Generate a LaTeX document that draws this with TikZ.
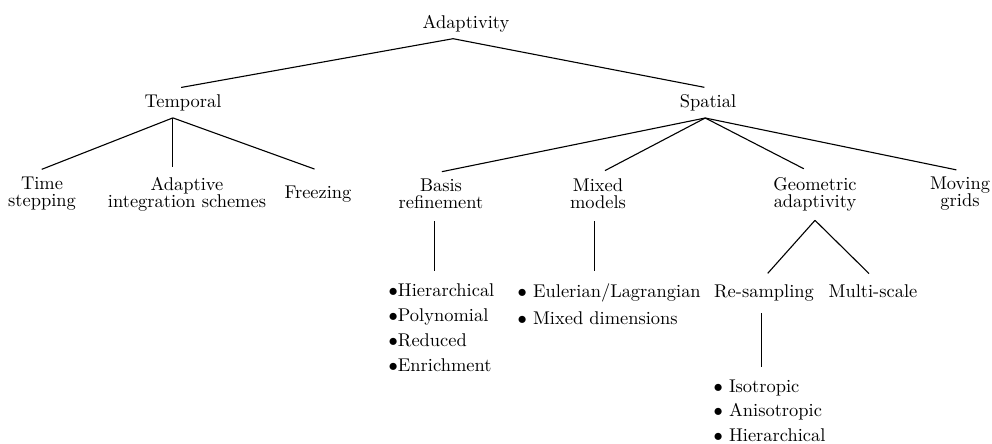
\documentclass[tikz,border=0pt]{standalone}
\usepackage{amsmath}
\usepackage{tikz}
\usetikzlibrary{positioning, calc}

\begin{document}
\begin{tikzpicture}[x=0.01906cm, y=-0.01906cm, line width=0.6pt,
  lbl/.style={align=center},
  items/.style={align=left, anchor=north west},
  branch/.style={shorten >=2pt},
  stem/.style={shorten <=3pt, shorten >=3pt}]
\useasboundingbox (0,0) rectangle (992,443);

% Root and first level
\node[lbl] (adapt) at (466,23.5) {Adaptivity};
\node[lbl] (temp) at (183,103) {Temporal};
\node[lbl] (spat) at (708,103) {Spatial};

% Temporal methods
\node[lbl] (time) at (42,194) {Time\\[-2.8pt]stepping};
\node[lbl] (adint) at (187,194) {Adaptive\\[-2.8pt]integration schemes};
\node[lbl] (freez) at (318,194) {Freezing};

% Spatial methods
\node[lbl] (basis) at (441,194) {Basis\\[-2.8pt]refinement};
\node[lbl] (mixed) at (598,194) {Mixed\\[-2.8pt]models};
\node[lbl] (geom) at (815,194) {Geometric\\[-2.8pt]adaptivity};
\node[lbl] (moving) at (960,194) {Moving\\[-2.8pt]grids};

% Geometric adaptivity
\node[lbl, anchor=base] (resamp) at (764,297) {Re-sampling};
\node[lbl, anchor=base] (multi) at (873,297) {Multi-scale};

% Lists
\node[items] (blist) at (382,277) {$\bullet$Hierarchical\\[1.5pt]$\bullet$Polynomial\\[1.5pt]$\bullet$Reduced\\[1.5pt]$\bullet$Enrichment};
\node[items] (mlist) at (511,277) {$\bullet$ Eulerian/Lagrangian\\[2.5pt]$\bullet$ Mixed dimensions};
\node[items] (ilist) at (707,373) {$\bullet$ Isotropic\\[1.3pt]$\bullet$ Anisotropic\\[1.3pt]$\bullet$ Hierarchical};

% Connectors
\draw[branch] ([xshift=-7pt]adapt.south) -- ([xshift=-3pt]temp.north);
\draw[branch] ([xshift=-7pt]adapt.south) -- (spat.north);

\draw[branch] ([xshift=-5.5pt]temp.south) -- ([xshift=-2pt]time.north);
\draw[branch] ([xshift=-5.5pt]temp.south) -- ([xshift=-5.5pt]temp.south |- adint.north);
\draw[branch] ([xshift=-5.5pt]temp.south) -- (freez.north |- adint.north);

\draw[branch] ([xshift=-1.5pt]spat.south) -- ([xshift=-1.5pt]basis.north);
\draw[branch] ([xshift=-1.5pt]spat.south) -- ([xshift=2pt]mixed.north);
\draw[branch] ([xshift=-1.5pt]spat.south) -- ([xshift=-4.3pt]geom.north);
\draw[branch] ([xshift=-1.5pt]spat.south) -- (moving.north);

\draw[stem] ([xshift=-3.3pt]basis.south) -- ([xshift=-3.3pt]basis.south |- blist.north);
\draw[stem] ([xshift=-2pt]mixed.south) -- ([xshift=-2pt]mixed.south |- mlist.north);
\draw[shorten >=3pt] ([yshift=-1.5pt]geom.south) -- (resamp.north);
\draw[shorten >=3pt] ([yshift=-1.5pt]geom.south) -- (multi.north);
\draw[stem] ([xshift=-1.5pt]resamp.south) -- ([xshift=-1.5pt]resamp.south |- ilist.north);
\end{tikzpicture}
\end{document}
